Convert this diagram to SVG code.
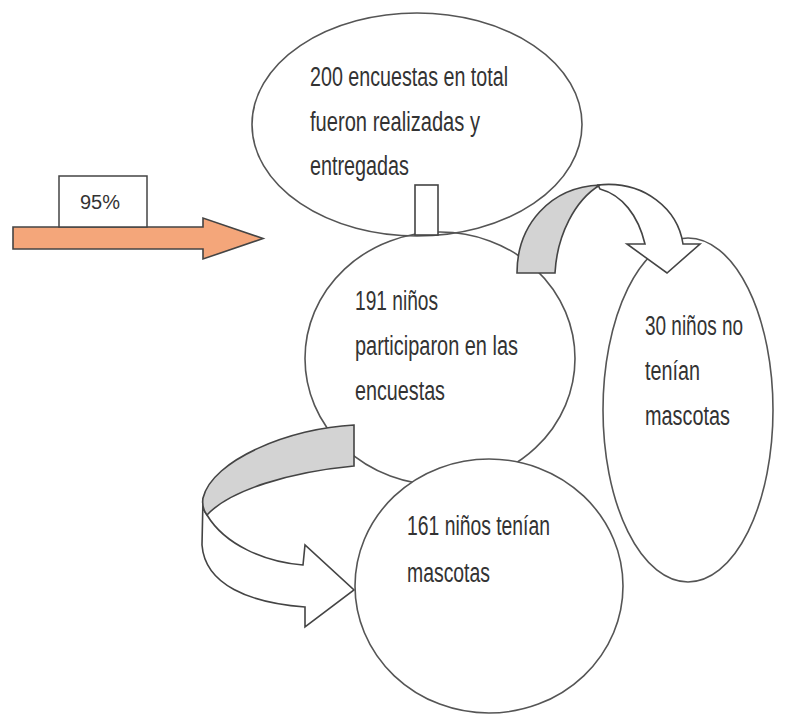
<svg xmlns="http://www.w3.org/2000/svg" width="790" height="714" viewBox="0 0 790 714">
<style>
.sh{stroke:#555;stroke-width:1.6;}
.t{font-family:"Liberation Sans",Arial,sans-serif;font-size:27px;fill:#333;}
.arw{stroke:#444;stroke-width:1.6;stroke-linejoin:miter;}
</style>
<rect width="790" height="714" fill="#fff"/>
<g id="n-total">
<ellipse class="sh" cx="417" cy="124.5" rx="165" ry="111.5" fill="none"/>
<text class="t" x="310" y="86" textLength="198" lengthAdjust="spacingAndGlyphs">200 encuestas en total</text>
<text class="t" x="310" y="131" textLength="170" lengthAdjust="spacingAndGlyphs">fueron realizadas y</text>
<text class="t" x="310" y="175" textLength="99" lengthAdjust="spacingAndGlyphs">entregadas</text>
</g>
<g id="n-participaron">
<ellipse class="sh" cx="440" cy="358.5" rx="135" ry="126.5" fill="none"/>
<text class="t" x="355" y="310" textLength="83" lengthAdjust="spacingAndGlyphs">191 niños</text>
<text class="t" x="355" y="355" textLength="163" lengthAdjust="spacingAndGlyphs">participaron en las</text>
<text class="t" x="355" y="400" textLength="90" lengthAdjust="spacingAndGlyphs">encuestas</text>
</g>
<g id="n-no-mascotas">
<ellipse class="sh" cx="688" cy="410" rx="85" ry="172" fill="#fff"/>
<text class="t" x="645" y="335" textLength="98" lengthAdjust="spacingAndGlyphs">30 niños no</text>
<text class="t" x="645" y="380" textLength="55" lengthAdjust="spacingAndGlyphs">tenían</text>
<text class="t" x="645" y="425" textLength="85" lengthAdjust="spacingAndGlyphs">mascotas</text>
</g>
<g id="connectors">
<rect class="arw" x="415" y="185" width="23" height="50" fill="#fff"/>
<path class="arw" d="M13,227 L203,227 L203,218 L263,238.5 L203,259 L203,249 L13,249 Z" fill="#F4A67A" stroke="#5a3a2a"/>
<path class="arw" d="M598,185 C645,180 678,210 683,244 L700,244 L667,273 L627,244 L645,244 C638,215 622,195 600,189 Z" fill="#fff"/>
<path class="arw" d="M517,273 C517,225 550,187 600,185 C575,200 557,235 555,273 Z" fill="#d3d3d3"/>
<path class="arw" d="M207,515 C225,545 265,562 303,565 L305,545 L354,590 L305,627 L305,607 C250,603 205,585 202,545 L203,498 C202,505 203,510 207,515 Z" fill="#fff"/>
<path class="arw" d="M354,425 L354,466 C290,472 230,490 207,515 C203,510 202,505 203,498 C212,460 290,428 354,425 Z" fill="#d3d3d3"/>
</g>
<g id="n-pct">
<rect x="59" y="176" width="88" height="51" fill="#fff" stroke="#444" stroke-width="1.5"/>
<text x="100" y="209" text-anchor="middle" style="font-family:'Liberation Sans',Arial,sans-serif;font-size:20px;fill:#333;">95%</text>
</g>
<g id="n-mascotas">
<ellipse class="sh" cx="489" cy="586" rx="134" ry="127" fill="#fff"/>
<text class="t" x="407" y="535" textLength="143" lengthAdjust="spacingAndGlyphs">161 niños tenían</text>
<text class="t" x="407" y="582" textLength="83" lengthAdjust="spacingAndGlyphs">mascotas</text>
</g>
</svg>
